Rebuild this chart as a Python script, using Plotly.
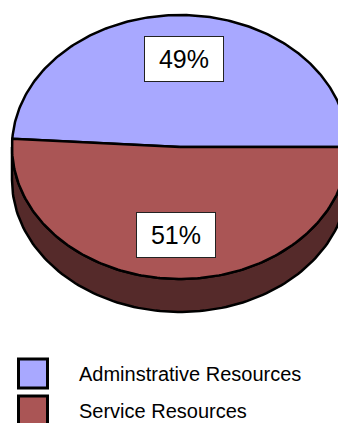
import numpy as np
import plotly.graph_objects as go

# ---- data ----
categories = ["Adminstrative Resources", "Service Resources"]
values = [49, 51]
top_colors = ["#A8A8FF", "#AA5555"]
side_colors = ["#55557F", "#552A2A"]

# ---- geometry of the 3D pie (pixel space) ----
W, H = 338, 423
cx, cy = 180.0, 147.0
a, b = 168.0, 132.0
depth = 33.0
start_deg = 0.0          # first slice starts at 3 o'clock, counterclockwise
label_r = 0.67

total = float(sum(values))
fracs = [v / total for v in values]
bounds = [start_deg]
for f in fracs:
    bounds.append(bounds[-1] + 360.0 * f)


def ell(theta_deg, dy=0.0):
    t = np.radians(theta_deg)
    return cx + a * np.cos(t), cy - b * np.sin(t) + dy


fig = go.Figure()

# side walls (front half: 180..360 deg)
for i in range(len(values)):
    lo, hi = bounds[i], bounds[i + 1]
    for off in (0.0, 360.0, -360.0):
        s = max(lo + off, 180.0)
        e = min(hi + off, 360.0)
        if e > s:
            th = np.linspace(s, e, 120)
            xt, yt = ell(th)
            xb, yb = ell(th[::-1], depth)
            xs = np.concatenate([xt, xb, xt[:1]])
            ys = np.concatenate([yt, yb, yt[:1]])
            fig.add_trace(go.Scatter(x=xs, y=ys, mode="lines", fill="toself",
                                     fillcolor=side_colors[i],
                                     line=dict(color="black", width=2.5),
                                     hoverinfo="skip", showlegend=False))

# top faces
for i in range(len(values)):
    th = np.linspace(bounds[i], bounds[i + 1], 200)
    xa, ya = ell(th)
    xs = np.concatenate([[cx], xa, [cx]])
    ys = np.concatenate([[cy], ya, [cy]])
    fig.add_trace(go.Scatter(x=xs, y=ys, mode="lines", fill="toself",
                             fillcolor=top_colors[i],
                             line=dict(color="black", width=2.5),
                             hoverinfo="skip", showlegend=False))

# percentage labels
for i in range(len(values)):
    mid = np.radians((bounds[i] + bounds[i + 1]) / 2.0)
    lx = cx + label_r * a * np.cos(mid)
    ly = cy - label_r * b * np.sin(mid)
    fig.add_annotation(x=lx, y=ly, xref="x", yref="y",
                       text=f"{round(fracs[i] * 100)}%", showarrow=False,
                       font=dict(family="Arial, Liberation Sans", size=25, color="black"),
                       bgcolor="white", bordercolor="#222222", borderwidth=1,
                       borderpad=0, width=78, height=44)

# legend (drawn manually)
leg_x, leg_y0, leg_dy = 33.0, 373.5, 37.0
for i, name in enumerate(categories):
    yy = leg_y0 + i * leg_dy
    fig.add_trace(go.Scatter(x=[leg_x], y=[yy], mode="markers",
                             marker=dict(symbol="square", size=29, color=top_colors[i],
                                         line=dict(color="black", width=3)),
                             hoverinfo="skip", showlegend=False))
    fig.add_annotation(x=77, y=yy, xref="x", yref="y", xanchor="left",
                       text=name, showarrow=False,
                       font=dict(family="Arial, Liberation Sans", size=20, color="black"))

fig.update_layout(
    width=W, height=H,
    margin=dict(l=0, r=0, t=0, b=0),
    paper_bgcolor="white", plot_bgcolor="white",
    xaxis=dict(range=[0, W], visible=False, fixedrange=True),
    yaxis=dict(range=[H, 0], visible=False, fixedrange=True),
    showlegend=False,
)

fig.write_html("out.html")
